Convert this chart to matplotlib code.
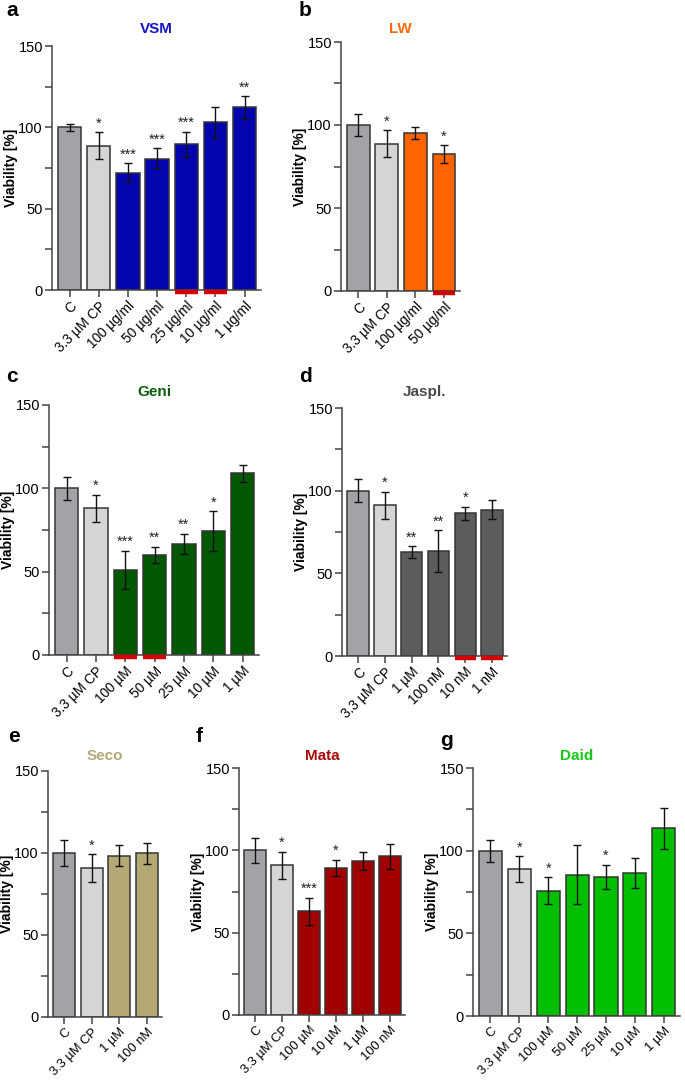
import matplotlib
matplotlib.use("Agg")
import matplotlib.pyplot as plt
import matplotlib.transforms as mtransforms
import numpy as np

plt.rcParams['font.family'] = ['Liberation Sans', 'DejaVu Sans']

W, H = 685, 1081

# ---------------- data ----------------
a_labels = ["C", "3.3 µM CP", "100 µg/ml", "50 µg/ml", "25 µg/ml", "10 µg/ml", "1 µg/ml"]
a_vals = [100, 88.7, 72.1, 80.7, 89.7, 103.2, 112.3]
a_err = [2, 8.3, 6, 6.5, 7.7, 9.5, 6.9]
a_stars = ["", "*", "***", "***", "***", "", "**"]
a_red = [4, 5]

b_labels = ["C", "3.3 µM CP", "100 µg/ml", "50 µg/ml"]
b_vals = [100, 88.7, 95.2, 82.5]
b_err = [6.8, 8.2, 3.6, 5.3]
b_stars = ["", "*", "", "*"]
b_red = [3]

c_labels = ["C", "3.3 µM CP", "100 µM", "50 µM", "25 µM", "10 µM", "1 µM"]
c_vals = [100, 88, 51.2, 60, 66.8, 74.4, 109]
c_err = [6.7, 8.1, 11.3, 5, 6.1, 11.9, 5.2]
c_stars = ["", "*", "***", "**", "**", "*", ""]
c_red = [2, 3]

d_labels = ["C", "3.3 µM CP", "1 µM", "100 nM", "10 nM", "1 nM"]
d_vals = [100, 91.1, 62.8, 63.4, 86.2, 88.5]
d_err = [7, 8.3, 3.7, 12.8, 4, 5.9]
d_stars = ["", "*", "**", "**", "*", ""]
d_red = [4, 5]

e_labels = ["C", "3.3 µM CP", "1 µM", "100 nM"]
e_vals = [100, 90.9, 98.4, 99.8]
e_err = [7.7, 8.3, 6.3, 6.4]
e_stars = ["", "*", "", ""]
e_red = []

f_labels = ["C", "3.3 µM CP", "100 µM", "10 µM", "1 µM", "100 nM"]
f_vals = [100, 91, 62.9, 89.4, 93.4, 96.4]
f_err = [7.7, 8.2, 8.2, 4.8, 5.3, 7.5]
f_stars = ["", "*", "***", "*", "", ""]
f_red = []

g_labels = ["C", "3.3 µM CP", "100 µM", "50 µM", "25 µM", "10 µM", "1 µM"]
g_vals = [100, 88.8, 75.9, 85.5, 84.1, 86.5, 113.5]
g_err = [6.6, 8, 7.9, 18, 7.3, 9, 12.2]
g_stars = ["", "*", "*", "", "*", "", ""]
g_red = []

C_COL = "#a3a2a7"
CP_COL = "#d5d5d5"

fig = plt.figure(figsize=(W / 100, H / 100), dpi=100)


def make_ax(left, top, right, bottom):
    return fig.add_axes([left / W, 1 - bottom / H, (right - left) / W, (bottom - top) / H])


title_y = {"a": 29, "b": 29, "c": 392, "d": 392, "e": 756, "f": 756, "g": 756}


def panel(box, letter, letter_xy, title, title_col, bar_col, labels, vals, errs, stars, red,
          xfs=9.8):
    ax = make_ax(*box)
    n = len(vals)
    x = np.arange(n)
    cols = [C_COL, CP_COL] + [bar_col] * (n - 2)
    ax.bar(x, vals, width=0.8, color=cols, edgecolor="#353535", linewidth=1.1, zorder=2)
    ax.errorbar(x, vals, yerr=errs, fmt="none", ecolor="#111111", elinewidth=1.0,
                capsize=3, capthick=1.0, zorder=3)
    for i, s in enumerate(stars):
        if s:
            ax.text(i, vals[i] + errs[i] + 1.0, s, ha="center", va="bottom",
                    fontsize=10.5, color="#222222", zorder=4)
    trans = mtransforms.blended_transform_factory(ax.transData, ax.transAxes)
    for i in red:
        ax.plot([i - 0.4, i + 0.4], [-0.007, -0.007], color="#d40000", lw=3.2,
                solid_capstyle="butt", transform=trans, clip_on=False, zorder=5)
    ax.set_xlim(-0.6, n - 1 + 0.56)
    ax.set_ylim(0, 150)
    ax.set_yticks([0, 50, 100, 150])
    ax.set_yticks([25, 75, 125], minor=True)
    ax.set_xticks(x)
    ax.set_xticklabels(labels, rotation=45, ha="right", rotation_mode="anchor", fontsize=xfs)
    ax.tick_params(axis="y", labelsize=10.5, length=5, width=1.1, color="#444444", pad=1.5)
    ax.tick_params(axis="y", which="minor", length=5, width=1.1, color="#444444")
    ax.tick_params(axis="x", length=5, width=1.1, color="#444444", pad=1.5)
    for sp in ["top", "right"]:
        ax.spines[sp].set_visible(False)
    for sp in ["left", "bottom"]:
        ax.spines[sp].set_color("#444444")
        ax.spines[sp].set_linewidth(1.1)
    ax.set_ylabel("Viability [%]", fontsize=10, fontweight="bold", labelpad=0.5)
    cx = (box[0] + box[2]) / 2
    fig.text(cx / W, 1 - title_y[letter] / H, title, color=title_col, fontsize=11,
             fontweight="bold", ha="center", va="center")
    fig.text(letter_xy[0] / W, 1 - letter_xy[1] / H, letter, fontsize=15, fontweight="bold",
             ha="center", va="center")
    return ax


panel((52, 46, 261, 290), "a", (12, 11), "VSM", "#1414c8", "#0505b0",
      a_labels, a_vals, a_err, a_stars, a_red)
panel((341, 42, 460, 291), "b", (305, 10), "LW", "#ff6a10", "#ff6400",
      b_labels, b_vals, b_err, b_stars, b_red)
panel((49, 405, 259, 655), "c", (12, 377), "Geni", "#0a5c0a", "#035803",
      c_labels, c_vals, c_err, c_stars, c_red)
panel((342, 408, 507, 656), "d", (305, 377), "Jaspl.", "#4a4a4a", "#5c5c5c",
      d_labels, d_vals, d_err, d_stars, d_red)
panel((48, 771, 162, 1017), "e", (14, 737), "Seco", "#b5a878", "#b4a874",
      e_labels, e_vals, e_err, e_stars, e_red, xfs=9.3)
panel((239, 768, 405, 1015), "f", (199, 737), "Mata", "#aa0a0a", "#a00000",
      f_labels, f_vals, f_err, f_stars, f_red, xfs=9.3)
panel((473, 768, 680, 1016), "g", (447, 740), "Daid", "#14c814", "#00bf00",
      g_labels, g_vals, g_err, g_stars, g_red, xfs=9.3)

fig.savefig("out.png", dpi=100)
